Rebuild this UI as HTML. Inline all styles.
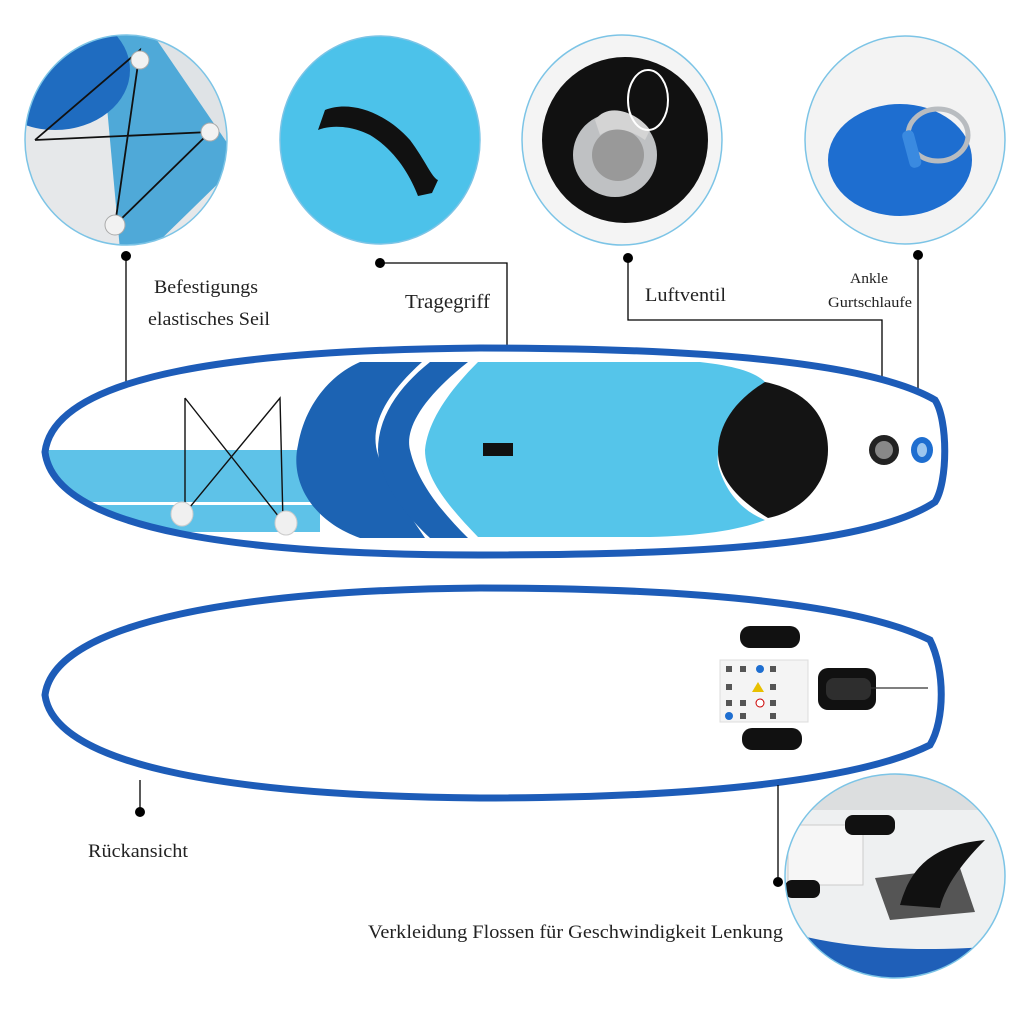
<!DOCTYPE html>
<html><head><meta charset="utf-8"><style>
html,body{margin:0;padding:0;background:#fff;}
svg{display:block;}
text{font-family:"Liberation Serif",serif;fill:#222;}
</style></head><body>
<svg width="1024" height="1024" viewBox="0 0 1024 1024" xmlns="http://www.w3.org/2000/svg">
<defs>
<clipPath id="c1"><ellipse cx="126" cy="140" rx="101" ry="105"/></clipPath>
<clipPath id="c2"><ellipse cx="380" cy="140" rx="100" ry="104"/></clipPath>
<clipPath id="c3"><ellipse cx="622" cy="140" rx="100" ry="105"/></clipPath>
<clipPath id="c4"><ellipse cx="905" cy="140" rx="100" ry="104"/></clipPath>
<clipPath id="c5"><ellipse cx="895" cy="876" rx="110" ry="102"/></clipPath>
<clipPath id="tb"><path d="M45,452 C55,372 250,350 480,348 C700,348 870,362 935,400 C948,420 948,482 935,502 C870,545 700,555 480,555 C250,555 55,532 45,452 Z"/></clipPath>
</defs>

<g clip-path="url(#c1)">
<rect x="20" y="30" width="212" height="220" fill="#e6e8ea"/>
<polygon points="100,30 232,30 232,170 150,250 120,250" fill="#4fa9d8"/>
<polygon points="150,30 190,30 232,120 232,150" fill="#dfe3e6"/>
<ellipse cx="55" cy="70" rx="75" ry="60" fill="#1f6cc0"/>
<polyline points="35,140 210,132 115,225 140,50 35,140" fill="none" stroke="#111" stroke-width="1.8"/>
<circle cx="140" cy="60" r="9" fill="#f2f2f2" stroke="#aaa"/>
<circle cx="210" cy="132" r="9" fill="#f2f2f2" stroke="#aaa"/>
<circle cx="115" cy="225" r="10" fill="#f2f2f2" stroke="#aaa"/>
</g>
<ellipse cx="126" cy="140" rx="101" ry="105" fill="none" stroke="#7cc4e6" stroke-width="1.5"/>

<g clip-path="url(#c2)">
<rect x="275" y="30" width="210" height="220" fill="#4cc2ea"/>
<path d="M325,110 C350,100 385,112 410,140 C425,160 432,178 438,180 L432,193 L418,196 C410,175 395,150 370,135 C350,125 330,125 318,130 Z" fill="#111"/>
</g>
<ellipse cx="380" cy="140" rx="100" ry="104" fill="none" stroke="#7cc4e6" stroke-width="1.5"/>

<g clip-path="url(#c3)">
<rect x="515" y="30" width="215" height="220" fill="#f4f4f4"/>
<circle cx="625" cy="140" r="83" fill="#111"/>
<circle cx="615" cy="155" r="42" fill="#bfc1c3"/>
<circle cx="618" cy="155" r="26" fill="#999"/>
<path d="M595,120 C610,100 640,115 650,130 L645,140 C630,130 615,125 600,135 Z" fill="#d4d4d4"/>
<ellipse cx="648" cy="100" rx="20" ry="30" fill="none" stroke="#fff" stroke-width="2"/>
</g>
<ellipse cx="622" cy="140" rx="100" ry="105" fill="none" stroke="#7cc4e6" stroke-width="1.5"/>

<g clip-path="url(#c4)">
<rect x="800" y="30" width="210" height="220" fill="#f3f3f3"/>
<ellipse cx="900" cy="160" rx="72" ry="56" fill="#1e6ed0"/>
<ellipse cx="938" cy="135" rx="30" ry="26" fill="none" stroke="#b8bcc0" stroke-width="5"/>
<rect x="906" y="130" width="12" height="38" rx="5" fill="#3a8ae0" transform="rotate(-15 912 150)"/>
</g>
<ellipse cx="905" cy="140" rx="100" ry="104" fill="none" stroke="#7cc4e6" stroke-width="1.5"/>

<circle cx="126" cy="256" r="5" fill="#000"/>
<line x1="126" y1="256" x2="126" y2="410" stroke="#000" stroke-width="1.3"/>
<circle cx="380" cy="263" r="5" fill="#000"/>
<polyline points="380,263 507,263 507,450" fill="none" stroke="#000" stroke-width="1.3"/>
<circle cx="628" cy="258" r="5" fill="#000"/>
<polyline points="628,258 628,320 882,320 882,437" fill="none" stroke="#000" stroke-width="1.3"/>
<circle cx="918" cy="255" r="5" fill="#000"/>
<line x1="918" y1="255" x2="918" y2="437" stroke="#000" stroke-width="1.3"/>

<text x="154" y="293" font-size="19" textLength="104" lengthAdjust="spacingAndGlyphs">Befestigungs</text>
<text x="148" y="325" font-size="19" textLength="122" lengthAdjust="spacingAndGlyphs">elastisches Seil</text>
<text x="405" y="308" font-size="19.5" textLength="85" lengthAdjust="spacingAndGlyphs">Tragegriff</text>
<text x="645" y="301" font-size="19" textLength="81" lengthAdjust="spacingAndGlyphs">Luftventil</text>
<text x="850" y="283" font-size="15" textLength="38" lengthAdjust="spacingAndGlyphs">Ankle</text>
<text x="828" y="307" font-size="15" textLength="84" lengthAdjust="spacingAndGlyphs">Gurtschlaufe</text>

<g clip-path="url(#tb)">
<rect x="30" y="340" width="930" height="220" fill="#fff"/>
<rect x="30" y="450" width="290" height="52" fill="#5ec2e8"/>
<rect x="30" y="505" width="290" height="27" fill="#5ec2e8"/>
<path d="M360,362 L422,362 C380,400 370,430 378,455 C390,490 410,515 425,538 L360,538 C310,520 290,480 298,445 C305,405 330,375 360,362 Z" fill="#1c63b3"/>
<path d="M430,362 L468,362 C420,400 405,430 410,450 C418,485 445,515 468,538 L430,538 C400,510 380,480 378,450 C378,420 395,390 430,362 Z" fill="#1c63b3"/>
<path d="M478,362 L700,362 C735,366 755,372 765,382 C730,420 715,445 718,465 C725,490 740,510 765,520 C740,530 700,536 650,537 L478,537 C452,510 425,480 425,450 C428,420 450,390 478,362 Z" fill="#55c5ea"/>
<path d="M765,382 C805,390 828,415 828,450 C828,485 800,512 768,518 C738,500 718,478 718,452 C718,425 735,400 765,382 Z" fill="#141414"/>
</g>
<path d="M45,452 C55,372 250,350 480,348 C700,348 870,362 935,400 C948,420 948,482 935,502 C870,545 700,555 480,555 C250,555 55,532 45,452 Z" fill="none" stroke="#1d5cb8" stroke-width="7"/>
<polyline points="185,398 185,513 280,398 283,522 185,398" fill="none" stroke="#111" stroke-width="1.4"/>
<ellipse cx="182" cy="514" rx="11" ry="12" fill="#f0f0f0" stroke="#ccc"/>
<ellipse cx="286" cy="523" rx="11" ry="12" fill="#f0f0f0" stroke="#ccc"/>
<rect x="483" y="443" width="30" height="13" fill="#111"/>
<circle cx="884" cy="450" r="15" fill="#222"/>
<circle cx="884" cy="450" r="9" fill="#888"/>
<ellipse cx="922" cy="450" rx="11" ry="13" fill="#1e6ed0"/>
<ellipse cx="922" cy="450" rx="5" ry="7" fill="#9cc6ee"/>

<path d="M45,695 C55,620 250,590 480,588 C700,588 860,605 930,640 C945,670 945,720 930,745 C860,780 700,798 480,798 C250,796 55,770 45,695 Z" fill="#fff" stroke="#1d5cb8" stroke-width="7"/>
<rect x="740" y="626" width="60" height="22" rx="10" fill="#111"/>
<rect x="742" y="728" width="60" height="22" rx="10" fill="#111"/>
<rect x="720" y="660" width="88" height="62" fill="#f4f4f4" stroke="#ddd"/>
<g fill="#555"><rect x="726" y="666" width="6" height="6"/><rect x="740" y="666" width="6" height="6"/><circle cx="760" cy="669" r="4" fill="#1e6ed0"/><rect x="770" y="666" width="6" height="6"/>
<rect x="726" y="684" width="6" height="6"/><polygon points="758,682 764,692 752,692" fill="#e8c000"/><rect x="770" y="684" width="6" height="6"/>
<rect x="726" y="700" width="6" height="6"/><rect x="740" y="700" width="6" height="6"/><circle cx="760" cy="703" r="4" fill="#fff" stroke="#c00"/><rect x="770" y="700" width="6" height="6"/>
<circle cx="729" cy="716" r="4" fill="#1e6ed0"/><rect x="740" y="713" width="6" height="6"/><rect x="770" y="713" width="6" height="6"/></g>
<rect x="818" y="668" width="58" height="42" rx="10" fill="#111"/>
<rect x="826" y="678" width="45" height="22" rx="8" fill="#2e2e2e"/>
<line x1="870" y1="688" x2="928" y2="688" stroke="#333" stroke-width="1.3"/>

<circle cx="140" cy="812" r="5" fill="#000"/>
<line x1="140" y1="780" x2="140" y2="812" stroke="#000" stroke-width="1.3"/>
<text x="88" y="857" font-size="19" textLength="100" lengthAdjust="spacingAndGlyphs">Rückansicht</text>
<circle cx="778" cy="882" r="5" fill="#000"/>
<line x1="778" y1="785" x2="778" y2="882" stroke="#000" stroke-width="1.3"/>
<text x="368" y="938" font-size="19" textLength="415" lengthAdjust="spacingAndGlyphs">Verkleidung Flossen für Geschwindigkeit Lenkung</text>

<g clip-path="url(#c5)">
<rect x="780" y="770" width="230" height="215" fill="#eef0f1"/>
<rect x="780" y="770" width="230" height="40" fill="#dcdedf"/>
<path d="M780,930 C830,945 900,955 1010,945 L1010,985 L780,985 Z" fill="#1f5fb8"/>
<rect x="788" y="825" width="75" height="60" fill="#f6f6f6" stroke="#ccc"/>
<rect x="845" y="815" width="50" height="20" rx="8" fill="#111"/>
<rect x="785" y="880" width="35" height="18" rx="7" fill="#111"/>
<polygon points="875,878 960,868 975,912 890,920" fill="#555"/>
<path d="M900,905 C910,870 930,845 985,840 C965,860 945,885 940,908 Z" fill="#111"/>
</g>
<ellipse cx="895" cy="876" rx="110" ry="102" fill="none" stroke="#7cc4e6" stroke-width="1.5"/>
</svg>
</body></html>
